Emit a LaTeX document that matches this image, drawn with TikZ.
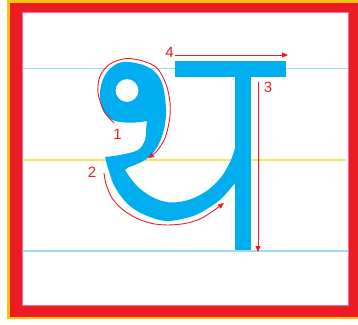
\documentclass[tikz,border=0pt]{standalone}
\usepackage{fontspec}
\setmainfont{Liberation Sans}
\usetikzlibrary{arrows.meta}
\definecolor{letterblue}{HTML}{00AEEF}
\definecolor{guideblue}{HTML}{9FD9F4}
\definecolor{guideyellow}{HTML}{F3E75B}
\definecolor{frred}{HTML}{ED1C24}
\definecolor{fryellow}{HTML}{FDC20F}
\definecolor{frpink}{HTML}{F26DB0}
\tikzset{
  arr/.style={frred, line width=0.9pt, -{Triangle[length=6pt,width=5pt]}},
  lbl/.style={text=frred, font=\fontsize{15}{15}\selectfont, inner sep=0pt},
  guide/.style={line width=1.5pt},
}
\begin{document}
\begin{tikzpicture}[x=1pt,y=-1pt]
\useasboundingbox (0,0) rectangle (358,324);
\fill[white] (0,0) rectangle (358,324);
% frame
\fill[fryellow] (7,0) rectangle (362,319);
\fill[frred] (10,3) rectangle (362,317);
\fill[white] (22.5,12.5) rectangle (348,305.5);
\draw[frpink, line width=1pt] (22.5,12.5) rectangle (348,305.5);
% guide lines
\draw[guide, guideblue] (23,68.5) -- (347.5,68.5);
\draw[guide, guideyellow] (24,160) -- (346,160);
\draw[guide, guideblue] (23,251) -- (347.5,251);
% letter
\fill[letterblue, even odd rule] (105,157)
  -- plot[smooth, tension=0.6] coordinates {(105,157) (120,155) (138,150) (145,140) (146,130) (147,121)}
  -- plot[smooth, tension=0.6] coordinates {(147,121) (135,122.5) (120,122) (109,118) (102,108) (100,92) (104,77) (112,67) (123,62) (140,64) (154,71) (162,83) (165,98) (166,115) (163,133) (156,149) (145,160) (127,168)}
  -- plot[smooth, tension=0.55] coordinates {(125,170) (136,185) (152,197) (170,202.5) (190,199.5) (208,190) (222,176) (231,160) (235,148)}
  -- (243,146) -- (243,185)
  -- plot[smooth, tension=0.55] coordinates {(235,183) (222,198) (210,207) (193,216) (167,221) (145,215) (130,206) (120,195) (113,183) (108,168) (105,157)}
  -- cycle
  (127,90.5) ellipse [x radius=11.5, y radius=11.5];
\fill[letterblue] (175,61) rectangle (286,77);
\fill[letterblue] (235,76) rectangle (251,250);
% arrows
\coordinate (a4s) at (175,55);
\coordinate (a4e) at (288,55);
\draw[arr] (a4s) -- (a4e);
\coordinate (a3s) at (258,82);
\coordinate (a3e) at (258,252);
\draw[arr] (a3s) -- (a3e);
\draw[arr] plot[smooth] coordinates {(114,123) (104,111) (98,93) (100,76) (110,64) (126,58.5) (143,61) (157,68) (166,84) (170,102) (169.5,120) (165,138) (157,151) (148,158)};
\draw[arr] plot[smooth] coordinates {(104,173) (106,184) (112,198) (122,209) (136,218) (152,223.5) (168,225) (185,223.5) (200,219) (213,211) (224,203)};
% labels
\node[lbl] (n4) at (169.5,52.5) {4};
\node[lbl] (n3) at (268,87) {3};
\node[lbl] (n1) at (117.5,134) {1};
\node[lbl] (n2) at (92,172) {2};
\end{tikzpicture}
\end{document}
